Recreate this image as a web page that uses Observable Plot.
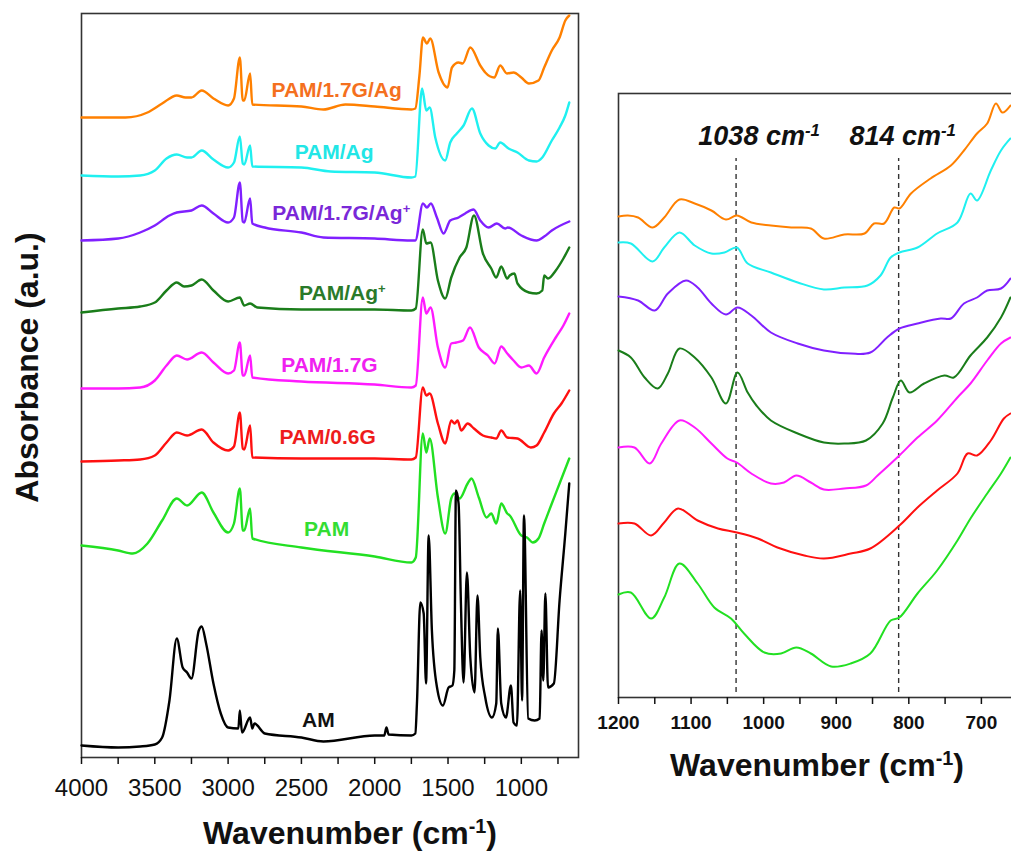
<!DOCTYPE html>
<html><head><meta charset="utf-8">
<script src="https://cdn.jsdelivr.net/npm/d3@7"></script>
<script src="https://cdn.jsdelivr.net/npm/@observablehq/plot@0.6"></script>
<style>
html,body{margin:0;padding:0;background:#fff;overflow:hidden;}
#wrap{position:relative;width:1011px;height:853px;overflow:hidden;background:#fff;}
#left{position:absolute;left:0;top:0;width:600px;height:853px;}
#right{position:absolute;left:600px;top:0;width:420px;height:853px;}
#wrap svg{max-width:none !important;}
</style></head>
<body><div id="wrap"><div id="left"></div><div id="right"></div></div>
<script>
// ---------- Data (wavenumber cm-1, absorbance a.u. with vertical offsets) ----------
const seriesNames = ["PAM/1.7G/Ag", "PAM/Ag", "PAM/1.7G/Ag^{+}", "PAM/Ag^{+}", "PAM/1.7G", "PAM/0.6G", "PAM", "AM"];
const lineColors  = ["#ff8000", "#1ff0f0", "#8020ff", "#1a7d1a", "#ff1aff", "#ff1010", "#22e022", "#000000"];
const labelColors = ["#f4701e", "#22e6e6", "#7a28d8", "#2a7a2a", "#f020f0", "#ee1c1c", "#33dd33", "#111111"];
const labelWn  = [2260, 2277, 2228, 2221, 2309, 2321, 2328, 2384];
const labelAbs = [667, 605, 544, 464, 392, 320, 228, 37];

// Full spectra (left panel)
const fullOrange = [[4000,640],[3700,640],[3550,645],[3450,654],[3350,662],[3290,660],[3250,660],[3180,667],[3100,659],[3000,652],[2960,659],[2920,700],[2900,657],[2890,657],[2850,684],[2835,653],[2500,651],[2350,648],[2200,653],[2000,651],[1750,648],[1723,649],[1695,682],[1671,720],[1644,714],[1621,719],[1564,685],[1503,670],[1473,690],[1428,695],[1400,694],[1348,710],[1280,692],[1246,685],[1185,680],[1144,692],[1098,684],[1053,685],[1000,680],[948,674],[883,677],[844,690],[792,707],[739,720],[700,737],[673,742]];
const fullCyan = [[4000,582],[3750,581],[3600,582],[3500,587],[3420,599],[3350,603],[3280,600],[3250,600],[3180,607],[3100,598],[3000,590],[2960,595],[2920,621],[2900,594],[2890,593],[2850,612],[2835,591],[2500,590],[2300,586],[2000,585],[1750,580],[1723,581],[1677,669],[1648,647],[1625,650],[1587,620],[1519,597],[1485,615],[1440,624],[1394,632],[1337,649],[1280,624],[1223,612],[1178,609],[1144,615],[1087,609],[1026,605],[948,597],[896,596],[857,600],[792,617],[739,630],[700,642],[673,655]];
const fullPurple = [[4000,517],[3750,519],[3600,525],[3500,532],[3400,542],[3350,545],[3250,547],[3180,552],[3100,544],[3000,535],[2960,540],[2920,575],[2900,536],[2890,535],[2850,559],[2835,534],[2750,530],[2500,525],[2350,520],[2000,519],[1750,517],[1723,517],[1671,554],[1644,550],[1617,554],[1576,540],[1530,524],[1485,537],[1428,540],[1383,544],[1326,548],[1280,537],[1223,530],[1167,534],[1110,529],[1092,530],[1000,522],[896,517],[844,521],[792,527],[673,536]];
const fullDkGreen = [[4000,445],[3750,449],[3600,451],[3500,455],[3420,467],[3350,475],[3300,471],[3250,472],[3180,478],[3100,467],[3000,456],[2920,460],[2890,452],[2850,454],[2800,450],[2500,448],[2000,448],[1750,447],[1720,449],[1672,528],[1648,514],[1619,515],[1569,477],[1519,459],[1478,480],[1421,500],[1375,510],[1323,542],[1262,504],[1205,489],[1171,480],[1137,491],[1096,479],[1079,482],[1047,484],[1026,474],[948,465],[896,464],[857,467],[844,482],[818,479],[765,487],[713,499],[673,510]];
const fullMagenta = [[4000,369],[3750,369],[3600,370],[3500,377],[3420,392],[3350,402],[3280,398],[3180,405],[3100,395],[3000,384],[2960,387],[2920,415],[2900,382],[2890,382],[2850,402],[2835,380],[2500,376],[2000,373],[1750,370],[1720,372],[1672,460],[1648,444],[1619,450],[1569,410],[1519,390],[1478,414],[1444,415],[1398,417],[1350,430],[1290,410],[1228,402],[1182,394],[1137,411],[1096,404],[1053,397],[1000,390],[948,392],[896,384],[844,400],[765,420],[713,432],[673,444]];
const fullRed = [[4000,296],[3750,297],[3600,298],[3500,302],[3420,315],[3350,325],[3280,322],[3180,328],[3100,315],[3000,307],[2960,311],[2920,345],[2900,309],[2890,308],[2850,332],[2835,300],[2500,299],[2000,299],[1750,298],[1720,300],[1672,370],[1648,362],[1625,364],[1569,334],[1519,314],[1478,337],[1455,334],[1435,337],[1410,327],[1366,334],[1323,329],[1262,322],[1205,320],[1171,319],[1137,327],[1096,320],[1026,319],[935,310],[896,312],[844,325],[778,344],[726,354],[673,367]];
const fullGreen = [[4000,212],[3750,207],[3650,204],[3550,214],[3450,237],[3350,259],[3280,252],[3180,265],[3100,245],[3000,225],[2960,234],[2920,269],[2900,227],[2890,227],[2850,249],[2835,219],[2500,210],[2000,201],[1750,195],[1720,200],[1672,324],[1648,305],[1625,319],[1569,260],[1519,224],[1478,259],[1455,264],[1421,259],[1366,274],[1340,279],[1290,260],[1237,240],[1205,244],[1171,234],[1137,254],[1096,244],[1079,242],[1000,222],[961,220],[922,215],[883,219],[844,234],[792,254],[739,274],[673,299]];
const fullBlack = [[4000,12],[3750,10],[3600,11],[3500,13],[3450,20],[3400,57],[3350,119],[3310,90],[3280,85],[3250,79],[3200,127],[3180,131],[3150,114],[3100,74],[3050,44],[3000,30],[2930,29],[2920,47],[2905,25],[2850,40],[2835,29],[2820,34],[2750,24],[2500,20],[2350,16],[2000,22],[1935,22],[1920,30],[1905,23],[1750,22],[1723,24],[1712,54],[1689,155],[1666,144],[1650,74],[1632,222],[1610,127],[1575,70],[1535,52],[1496,70],[1470,72],[1457,87],[1446,267],[1428,254],[1412,154],[1394,75],[1371,185],[1348,100],[1319,65],[1299,162],[1280,100],[1246,60],[1200,40],[1171,54],[1160,129],[1137,54],[1105,40],[1071,72],[1053,35],[1030,32],[1008,167],[995,57],[982,242],[953,39],[909,37],[875,39],[862,127],[850,77],[836,164],[818,70],[778,74],[739,157],[700,224],[673,274]];

// Zoomed 1200-660 cm-1 (right panel)
const zoomOrange = [[1200,481],[1187,482],[1173,480],[1153,470],[1137,480],[1116,498],[1095,494],[1072,487],[1052,478],[1037,482],[1017,475],[990,472],[962,470],[935,469],[917,459],[889,463],[861,464],[848,474],[834,474],[820,490],[813,489],[797,504],[770,519],[742,532],[724,547],[706,564],[692,574],[680,594],[671,585],[660,592]];
const zoomCyan = [[1200,455],[1183,454],[1153,436],[1137,450],[1116,465],[1095,452],[1072,444],[1054,445],[1037,450],[1022,434],[990,425],[953,415],[917,408],[889,410],[857,412],[839,422],[825,440],[813,445],[788,450],[761,464],[733,475],[715,504],[706,497],[687,527],[673,547],[660,559]];
const zoomPurple = [[1200,401],[1173,397],[1150,387],[1132,404],[1107,417],[1091,410],[1072,394],[1052,383],[1036,390],[1017,382],[990,365],[953,354],[917,347],[880,344],[853,345],[830,360],[813,369],[788,374],[756,379],[742,379],[724,394],[706,400],[692,407],[673,409],[660,419]];
const zoomDkGreen = [[1200,347],[1183,340],[1164,320],[1146,309],[1132,324],[1116,349],[1095,340],[1072,320],[1052,294],[1036,325],[1022,305],[1010,292],[990,277],[953,264],[917,255],[889,254],[859,257],[836,274],[822,300],[811,317],[799,305],[779,314],[751,322],[738,320],[715,342],[692,360],[673,380],[660,400]];
const zoomMagenta = [[1200,250],[1178,250],[1157,234],[1141,254],[1116,277],[1095,270],[1072,254],[1050,239],[1037,235],[1017,224],[990,214],[972,215],[955,222],[935,215],[917,208],[889,209],[859,212],[843,222],[813,242],[788,260],[761,277],[733,300],[715,314],[692,337],[673,354],[660,360]];
const zoomRed = [[1200,174],[1178,174],[1155,162],[1137,175],[1118,189],[1091,177],[1063,169],[1037,165],[1008,159],[981,150],[944,142],[917,139],[880,144],[853,149],[813,172],[788,190],[761,207],[733,224],[719,244],[706,242],[687,257],[669,279],[660,284]];
const zoomGreen = [[1200,103],[1183,105],[1155,79],[1137,100],[1116,134],[1091,114],[1068,90],[1045,79],[1027,64],[999,45],[976,44],[955,50],[935,44],[907,31],[880,34],[853,44],[825,77],[813,80],[788,104],[761,127],[733,157],[715,179],[692,204],[673,224],[660,240]];

const leftTicks  = [4000,3750,3500,3250,3000,2750,2500,2250,2000,1750,1500,1250,1000,750];
const leftMajor  = [4000,3500,3000,2500,2000,1500,1000];
const rightTicks = [1200,1150,1100,1050,1000,950,900,850,800,750,700];
const rightMajor = [1200,1100,1000,900,800,700];
const markers    = [1038, 814];
const markerText = ["1038 cm^{-1}", "814 cm^{-1}"];

const fullSpectra = [fullOrange, fullCyan, fullPurple, fullDkGreen, fullMagenta, fullRed, fullGreen, fullBlack];
const zoomSpectra = [zoomOrange, zoomCyan, zoomPurple, zoomDkGreen, zoomMagenta, zoomRed, zoomGreen];

// ---------- Rendering ----------
const FONT = '"Liberation Sans", Arial, Helvetica, sans-serif';

function supify(svg) {
  d3.select(svg).selectAll("text").each(function () {
    const t = this.textContent;
    if (!t || !t.includes("^{")) return;
    const parts = t.split(/\^\{([^}]*)\}/);
    const sel = d3.select(this);
    sel.text(null);
    parts.forEach((p, i) => {
      if (!p) return;
      const ts = sel.append("tspan").text(p);
      if (i % 2 === 1) ts.attr("baseline-shift", "super").attr("font-size", "0.62em");
    });
  });
}

const leftMarks = [
  Plot.frame({stroke: "#333", strokeWidth: 1.6}),
  Plot.axisX({ticks: leftTicks, tickFormat: d => leftMajor.includes(d) ? String(d) : "", tickSize: 7, tickPadding: 14, fontSize: 24, strokeWidth: 1.5, label: null})
];
fullSpectra.forEach((s, i) => {
  leftMarks.push(Plot.line(s, {x: d => d[0], y: d => d[1], stroke: lineColors[i], strokeWidth: 2.4, curve: "monotone-x"}));
});
seriesNames.forEach((n, i) => {
  leftMarks.push(Plot.text([n], {x: () => labelWn[i], y: () => labelAbs[i], text: d => d, fill: labelColors[i], fontSize: 21, fontWeight: "bold"}));
});
leftMarks.push(Plot.text(["Wavenumber (cm^{-1})"], {frameAnchor: "bottom", text: d => d, textAnchor: "middle", lineAnchor: "middle", dx: 20, dy: 76, fontSize: 32, fontWeight: "bold", fill: "#111"}));
leftMarks.push(Plot.text(["Absorbance (a.u.)"], {frameAnchor: "left", text: d => d, textAnchor: "middle", lineAnchor: "middle", dx: -54, dy: -18, rotate: -90, fontSize: 32, fontWeight: "bold", fill: "#111"}));

const left = Plot.plot({
  width: 600, height: 853,
  marginLeft: 81, marginRight: 22, marginTop: 13, marginBottom: 96,
  x: {domain: [4000, 610]},
  y: {domain: [0, 744], axis: null},
  style: {fontFamily: FONT, fontSize: "24px", color: "#111", background: "transparent", overflow: "visible", maxWidth: "none"},
  marks: leftMarks
});
supify(left);
document.getElementById("left").appendChild(left);

const rightMarks = [
  Plot.frame({stroke: "#333", strokeWidth: 1.6}),
  Plot.axisX({ticks: rightTicks, tickFormat: d => rightMajor.includes(d) ? String(d) : "", tickSize: 7, tickPadding: 11, fontSize: 19, fontWeight: "bold", strokeWidth: 1.5, label: null}),
  Plot.ruleX(markers, {x: d => d, y1: 5, y2: 539, stroke: "#333", strokeWidth: 1.4, strokeDasharray: "5,4"})
];
zoomSpectra.forEach((s, i) => {
  rightMarks.push(Plot.line(s, {x: d => d[0], y: d => d[1], stroke: lineColors[i], strokeWidth: 2, curve: "catmull-rom"}));
});
rightMarks.push(Plot.text([markerText[0]], {x: () => markers[0], frameAnchor: "top", text: d => d, textAnchor: "middle", lineAnchor: "middle", dx: 23, dy: 43, fontSize: 27, fontWeight: "bold", fontStyle: "italic", fill: "#111"}));
rightMarks.push(Plot.text([markerText[1]], {x: () => markers[1], frameAnchor: "top", text: d => d, textAnchor: "middle", lineAnchor: "middle", dx: 4, dy: 43, fontSize: 27, fontWeight: "bold", fontStyle: "italic", fill: "#111"}));
rightMarks.push(Plot.text(["Wavenumber (cm^{-1})"], {frameAnchor: "bottom", text: d => d, textAnchor: "middle", lineAnchor: "middle", dx: 0, dy: 68, fontSize: 32, fontWeight: "bold", fill: "#111"}));

const right = Plot.plot({
  width: 420, height: 853,
  marginLeft: 18, marginRight: 5, marginTop: 93, marginBottom: 156,
  x: {domain: [1200, 653]},
  y: {domain: [0, 604], axis: null},
  style: {fontFamily: FONT, fontSize: "19px", color: "#111", background: "transparent", overflow: "visible", maxWidth: "none"},
  marks: rightMarks
});
supify(right);
document.getElementById("right").appendChild(right);
</script>
</body></html>
